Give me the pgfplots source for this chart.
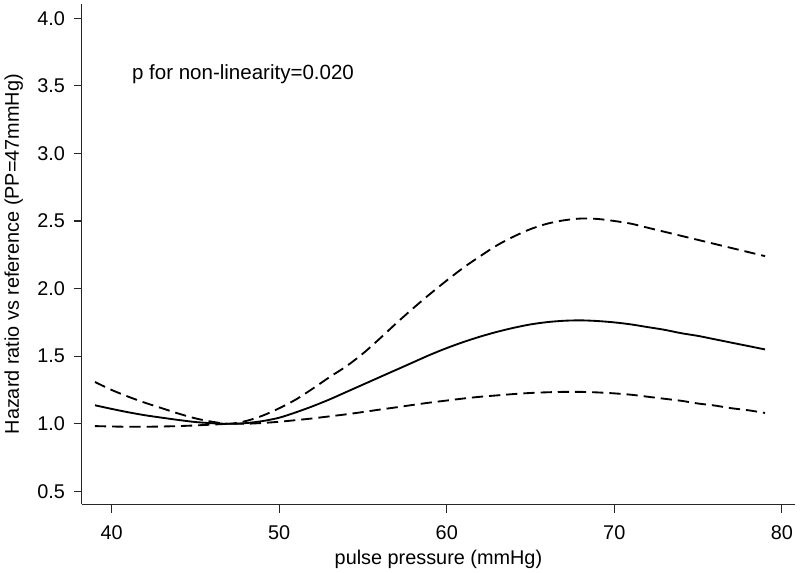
\documentclass[border=0pt]{standalone}
\usepackage{pgfplots}
\pgfplotsset{compat=1.18}
\usepackage{fontspec}
\setmainfont{Liberation Sans}

\pgfplotstableread{
x est lo hi
39 1.137 0.983 1.309
40 1.11 0.980 1.25
41 1.085 0.978 1.20
42 1.063 0.978 1.155
43 1.045 0.980 1.115
44 1.028 0.983 1.075
45 1.013 0.988 1.04
46 1.004 0.994 1.015
47 1.0 1.0 1.0
48 1.005 1.0 1.02
49 1.02 1.006 1.06
50 1.045 1.015 1.115
51 1.085 1.027 1.18
52 1.13 1.04 1.26
53 1.18 1.055 1.345
54 1.235 1.07 1.425
55 1.29 1.087 1.52
56 1.345 1.105 1.63
57 1.40 1.122 1.745
58 1.455 1.14 1.855
59 1.51 1.157 1.96
60 1.56 1.172 2.06
61 1.605 1.187 2.155
62 1.645 1.20 2.24
63 1.68 1.21 2.32
64 1.71 1.22 2.385
65 1.735 1.228 2.44
66 1.752 1.233 2.48
67 1.762 1.236 2.505
68 1.765 1.236 2.518
69 1.76 1.232 2.515
70 1.75 1.225 2.50
71 1.735 1.215 2.48
72 1.715 1.20 2.45
73 1.695 1.185 2.42
74 1.67 1.17 2.39
75 1.65 1.15 2.36
76 1.625 1.135 2.33
77 1.60 1.115 2.30
78 1.575 1.10 2.27
79 1.55 1.08 2.24
}\datatable

\begin{document}
\begin{tikzpicture}
\begin{axis}[
  name=ax,
  scale only axis=true,
  width=538.7pt, height=378pt,
  xmin=38.22, xmax=80.79,
  ymin=0.404, ymax=4.105,
  axis lines*=left,
  axis line style={black!85, line width=0.9pt},
  tick style={black!85, line width=0.9pt},
  tick align=outside,
  major tick length=6.3pt,
  xtick={40,50,60,70,80},
  ytick={0.5,1,1.5,2,2.5,3,3.5,4},
  minor tick num=0,
  yticklabel style={xshift=-3pt, /pgf/number format/.cd, fixed, fixed zerofill, precision=1},
  xticklabel style={yshift=-6pt},
  /pgf/number format/assume math mode=true,
  tick label style={font=\fontsize{15}{17}\selectfont},
  label style={font=\fontsize{15}{17}\selectfont},
  xlabel={pulse pressure (mmHg)},
  ylabel={Hazard ratio vs reference (PP=47mmHg)},
  xlabel style={yshift=-1pt},
  ylabel style={yshift=4pt},
  clip=false,
]
\addplot[black, line width=1.4pt, smooth] table[x=x, y=est] {\datatable};
\addplot[black, line width=1.4pt, smooth, dash pattern=on 8.5pt off 4.5pt] table[x=x, y=lo] {\datatable};
\addplot[black, line width=1.4pt, smooth, dash pattern=on 8.5pt off 4.5pt] table[x=x, y=hi] {\datatable};
\node[anchor=base west, inner sep=0pt, font=\fontsize{15.5}{17}\selectfont] at (axis cs:41.2,3.55) {p for non-linearity=0.020};
\end{axis}
\path (ax.south west) ++(-57.5pt,-46.5pt) coordinate (bl);
\path (ax.north east) ++(3.75pt,3pt) coordinate (tr);
\path (bl) rectangle (tr);
\end{tikzpicture}
\end{document}
